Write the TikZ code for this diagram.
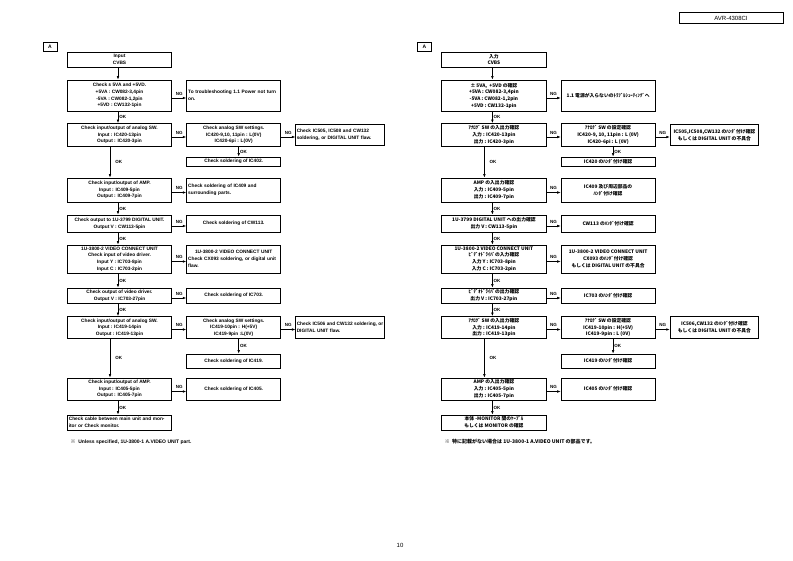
\documentclass[tikz,border=0pt]{standalone}
\usepackage{fontspec}
\setmainfont{Liberation Sans}
\newfontfamily\jp{Noto Sans CJK JP}
\usetikzlibrary{positioning,arrows.meta}

\newcommand\boxfont{\fontsize{4.8}{6.7}\selectfont\bfseries}

\tikzset{
  box/.style={draw, line width=0.8pt, align=center, inner xsep=1.5pt, inner ysep=0.5pt, minimum width=104.4pt, font=\boxfont},
  ngbox/.style={box, minimum width=94pt},
  farbox/.style={box, minimum width=88.5pt, inner xsep=1pt},
  leftbox/.style={align=left, text width=#1},
  link/.style={-{Latex[length=3.5pt,width=2.6pt]}, line width=0.6pt},
  tag/.style={font=\fontsize{4.5}{5}\selectfont\bfseries, inner sep=1pt},
  secbox/.style={draw, line width=0.8pt, minimum width=14pt, minimum height=9pt, inner sep=0pt, font=\fontsize{5}{6}\selectfont\bfseries},
}

\begin{document}
\begin{tikzpicture}[x=1pt, y=-1pt]
\useasboundingbox (0,0) rectangle (793,561);

\node[draw, line width=0.6pt, minimum width=104pt, minimum height=11pt, font=\fontsize{6}{7}\selectfont] (model) at (731,18) {AVR-4308CI};
\node[font=\fontsize{6}{7}\selectfont] (page) at (400,545) {10};

\node[secbox] (l-sec) at (50,46.5) {A};
\node[box, minimum height=15] (l-in) at (119.5,59.5) {Input\\CVBS};
\node[box, minimum height=31] (l-pw) at (119.5,95.5) {Check ± 5VA and +5VD.\\+5VA : CW082-3,4pin\\-5VA : CW082-1,2pin\\+5VD : CW132-1pin};
\node[ngbox, leftbox=91pt, minimum height=31] (l-pwng) at (233.7,95.5) {To troubleshooting 1.1 Power not turn\\on.};
\node[box, minimum height=23] (l-asw) at (119.5,135) {Check input/output of analog SW.\\Input : IC420-13pin\\Output : IC420-3pin};
\node[ngbox, minimum height=23] (l-aswset) at (233.7,135) {Check analog SW settings.\\IC420-9,10, 11pin : L(0V)\\IC420-6pi : L(0V)};
\node[farbox, leftbox=86.5pt, minimum height=21] (l-dig) at (340,135) {Check IC505, IC508 and CW132\\soldering, or DIGITAL UNIT flaw.};
\node[ngbox, minimum height=9] (l-sol) at (233.7,161.5) {Check soldering of IC402.};
\node[box, minimum height=24] (l-amp) at (119.5,190) {Check input/output of AMP.\\Input : IC409-5pin\\Output : IC409-7pin};
\node[ngbox, leftbox=91pt, minimum height=24] (l-ampng) at (233.7,190) {Check soldering of IC409 and\\surrounding parts.};
\node[box, minimum height=17] (l-out) at (119.5,223.5) {Check output to 1U-3799 DIGITAL UNIT.\\Output V : CW113-5pin};
\node[ngbox, minimum height=17] (l-outng) at (233.7,223.5) {Check soldering of CW113.};
\node[box, minimum height=28] (l-vcu) at (119.5,259) {1U-3800-2 VIDEO CONNECT UNIT\\Check input of video driver.\\Input Y : IC703-8pin\\Input C : IC703-2pin};
\node[ngbox, leftbox=91pt, minimum height=28] (l-vcung) at (233.7,259) {\hfill 1U-3800-2 VIDEO CONNECT UNIT\hfill\null\\Check CX093 soldering, or digital unit\\flaw.};
\node[box, minimum height=15] (l-vdo) at (119.5,295.5) {Check output of video driver.\\Output V : IC703-27pin};
\node[ngbox, minimum height=15] (l-vdong) at (233.7,295.5) {Check soldering of IC703.};
\node[box, minimum height=22] (l-asw2) at (119.5,327.5) {Check input/output of analog SW.\\Input : IC419-14pin\\Output : IC419-13pin};
\node[ngbox, minimum height=22] (l-asw2set) at (233.7,327.5) {Check analog SW settings.\\IC419-10pin : H(+5V)\\IC419-9pin :L(0V)};
\node[farbox, leftbox=86.5pt, minimum height=22] (l-dig2) at (340,327.5) {Check\hfill IC506\hfill and\hfill CW132\hfill soldering,\hfill or\\DIGITAL UNIT flaw.};
\node[ngbox, minimum height=14] (l-sol2) at (233.7,361) {Check soldering of IC419.};
\node[box, minimum height=22] (l-amp2) at (119.5,389) {Check input/output of AMP.\\Input : IC405-5pin\\Output : IC405-7pin};
\node[ngbox, minimum height=22] (l-amp2ng) at (233.7,389) {Check soldering of IC405.};
\node[box, leftbox=101.4pt, minimum height=15] (l-cbl) at (119.5,422.5) {Check cable between main unit and mon-\\itor or Check monitor.};
\node[anchor=west, font=\fontsize{5}{6}\selectfont\bfseries] (l-note) at (67,442) {{\jp ※}\ \ Unless specified, 1U-3800-1 A.VIDEO UNIT part.};

\begin{scope}[xshift=374.4]
\renewcommand\boxfont{\fontsize{4.8}{6.7}\selectfont\jp\bfseries}
\node[secbox] (j-sec) at (50,46.5) {A};
\node[box, minimum height=15] (j-in) at (119.5,59.5) {入力\\CVBS};
\node[box, minimum height=31] (j-pw) at (119.5,95.5) {± 5VA,\ \ +5VD の確認\\+5VA : CW082-3,4pin\\-5VA : CW082-1,2pin\\+5VD : CW132-1pin};
\node[ngbox, minimum height=31] (j-pwng) at (233.7,95.5) {1.1 電源が入らないのﾄﾗﾌﾞﾙｼｭｰﾃｨﾝｸﾞへ};
\node[box, minimum height=23] (j-asw) at (119.5,135) {ｱﾅﾛｸﾞ SW の入出力確認\\入力 : IC420-13pin\\出力 : IC420-3pin};
\node[ngbox, minimum height=23] (j-aswset) at (233.7,135) {ｱﾅﾛｸﾞ SW の設定確認\\IC420-9, 10, 11pin : L (0V)\\IC420-6pi : L (0V)};
\node[farbox, minimum height=21] (j-dig) at (340,135) {IC505,IC508,CW132 のﾊﾝﾀﾞ付け確認\\もしくは DIGITAL UNIT の不具合};
\node[ngbox, minimum height=9] (j-sol) at (233.7,161.5) {IC420 のﾊﾝﾀﾞ付け確認};
\node[box, minimum height=24] (j-amp) at (119.5,190) {AMP の入出力確認\\入力 : IC409-5pin\\出力 : IC409-7pin};
\node[ngbox, minimum height=24] (j-ampng) at (233.7,190) {IC409 及び周辺部品の\\ﾊﾝﾀﾞ付け確認};
\node[box, minimum height=17] (j-out) at (119.5,223.5) {1U-3799 DIGITAL UNIT への出力確認\\出力 V : CW113-5pin};
\node[ngbox, minimum height=17] (j-outng) at (233.7,223.5) {CW113 のﾊﾝﾀﾞ付け確認};
\node[box, minimum height=28] (j-vcu) at (119.5,259) {1U-3800-2 VIDEO CONNECT UNIT\\ﾋﾞﾃﾞｵﾄﾞﾗｲﾊﾞの入力確認\\入力 Y : IC703-8pin\\入力 C : IC703-2pin};
\node[ngbox, minimum height=28] (j-vcung) at (233.7,259) {1U-3800-2 VIDEO CONNECT UNIT\\CX093 のﾊﾝﾀﾞ付け確認\\もしくは DIGITAL UNIT の不具合};
\node[box, minimum height=15] (j-vdo) at (119.5,295.5) {ﾋﾞﾃﾞｵﾄﾞﾗｲﾊﾞの出力確認\\出力 V : IC703-27pin};
\node[ngbox, minimum height=15] (j-vdong) at (233.7,295.5) {IC703 のﾊﾝﾀﾞ付け確認};
\node[box, minimum height=22] (j-asw2) at (119.5,327.5) {ｱﾅﾛｸﾞ SW の入出力確認\\入力 : IC419-14pin\\出力 : IC419-13pin};
\node[ngbox, minimum height=22] (j-asw2set) at (233.7,327.5) {ｱﾅﾛｸﾞ SW の設定確認\\IC419-10pin : H(+5V)\\IC419-9pin : L (0V)};
\node[farbox, minimum height=22] (j-dig2) at (340,327.5) {IC506,CW132 のﾊﾝﾀﾞ付け確認\\もしくは DIGITAL UNIT の不具合};
\node[ngbox, minimum height=14] (j-sol2) at (233.7,361) {IC419 のﾊﾝﾀﾞ付け確認};
\node[box, minimum height=22] (j-amp2) at (119.5,389) {AMP の入出力確認\\入力 : IC405-5pin\\出力 : IC405-7pin};
\node[ngbox, minimum height=22] (j-amp2ng) at (233.7,389) {IC405 のﾊﾝﾀﾞ付け確認};
\node[box, minimum height=15] (j-cbl) at (119.5,422.5) {本体 -MONITOR 間のｹｰﾌﾞﾙ\\もしくは MONITOR の確認};
\node[anchor=west, font=\fontsize{5}{6}\selectfont\jp\bfseries] (j-note) at (67,442) {※\ \ 特に記載がない場合は 1U-3800-1 A.VIDEO UNIT の部品です。};
\end{scope}

\foreach \p in {l,j} {
  \draw[link] ([xshift=-1.5]\p-in.south) -- ([xshift=-1.5]\p-pw.north);
  \draw[link] ([xshift=-1.5]\p-pw.south) -- node[tag, right] {OK} ([xshift=-1.5]\p-asw.north);
  \draw[link] ([xshift=-9.5]\p-asw.south) -- node[tag, right=4pt] {OK} ([xshift=-9.5]\p-amp.north);
  \draw[link] ([xshift=-1.5]\p-amp.south) -- node[tag, right] {OK} ([xshift=-1.5]\p-out.north);
  \draw[link] ([xshift=-1.5]\p-out.south) -- node[tag, right] {OK} ([xshift=-1.5]\p-vcu.north);
  \draw[link] ([xshift=-1.5]\p-vcu.south) -- node[tag, right] {OK} ([xshift=-1.5]\p-vdo.north);
  \draw[link] ([xshift=-1.5]\p-vdo.south) -- node[tag, right] {OK} ([xshift=-1.5]\p-asw2.north);
  \draw[link] ([xshift=-9.5]\p-asw2.south) -- node[tag, right=4pt] {OK} ([xshift=-9.5]\p-amp2.north);
  \draw[link] ([xshift=-1.5]\p-amp2.south) -- node[tag, right] {OK} ([xshift=-1.5]\p-cbl.north);
  \draw[link] ([xshift=5]\p-aswset.south) -- node[tag, right] {OK} ([xshift=5]\p-sol.north);
  \draw[link] ([xshift=5]\p-asw2set.south) -- node[tag, right] {OK} ([xshift=5]\p-sol2.north);
  \draw[link] ([yshift=-2.5]\p-pw.east) -- node[tag, above=1.5pt] {NG} ([yshift=-2.5]\p-pwng.west);
  \draw[link] ([yshift=-2]\p-asw.east) -- node[tag, above=1.5pt] {NG} ([yshift=-2]\p-aswset.west);
  \draw[link] ([yshift=-2]\p-aswset.east) -- node[tag, above=1.5pt] {NG} ([yshift=-2]\p-dig.west);
  \draw[link] ([yshift=-2.5]\p-amp.east) -- node[tag, above=1.5pt] {NG} ([yshift=-2.5]\p-ampng.west);
  \draw[link] ([yshift=-2.5]\p-out.east) -- node[tag, above=1.5pt] {NG} ([yshift=-2.5]\p-outng.west);
  \draw[link] ([yshift=-2.5]\p-vcu.east) -- node[tag, above=1.5pt] {NG} ([yshift=-2.5]\p-vcung.west);
  \draw[link] ([yshift=-2.5]\p-vdo.east) -- node[tag, above=1.5pt] {NG} ([yshift=-2.5]\p-vdong.west);
  \draw[link] ([yshift=-2]\p-asw2.east) -- node[tag, above=1.5pt] {NG} ([yshift=-2]\p-asw2set.west);
  \draw[link] ([yshift=-2]\p-asw2set.east) -- node[tag, above=1.5pt] {NG} ([yshift=-2]\p-dig2.west);
  \draw[link] ([yshift=-2.5]\p-amp2.east) -- node[tag, above=1.5pt] {NG} ([yshift=-2.5]\p-amp2ng.west);
}
\end{tikzpicture}
\end{document}
